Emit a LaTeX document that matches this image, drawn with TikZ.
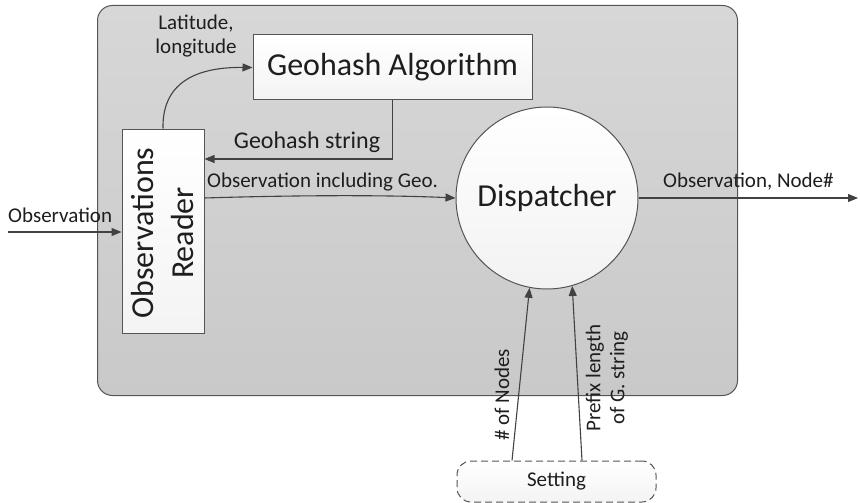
\documentclass[tikz,border=0pt]{standalone}
\usepackage{fontspec}
\setmainfont{Carlito}
\usetikzlibrary{arrows.meta}

\definecolor{paneltop}{HTML}{D7D7D7}
\definecolor{panelbot}{HTML}{C9C9C9}
\definecolor{edge}{HTML}{555555}
\definecolor{ink}{HTML}{424242}
\definecolor{txt}{HTML}{1E1E1E}

\begin{document}
\begin{tikzpicture}[x=1pt,y=-1pt,
  every node/.style={text=txt},
  small/.style={font=\fontsize{21}{24}\selectfont},
  mid/.style={font=\fontsize{24}{29}\selectfont},
  big/.style={font=\fontsize{32}{40}\selectfont},
  block/.style={draw=edge, line width=1pt, top color=white, bottom color=gray!9, inner sep=0pt},
  conn/.style={draw=ink, line width=1.1pt, -{Triangle[length=10pt,width=8pt]}},
]
\useasboundingbox (0,0) rectangle (860,503);

% grey system boundary
\node[draw=edge, line width=1pt, top color=paneltop, bottom color=panelbot, rounded corners=15pt,
      minimum width=640pt, minimum height=390pt, inner sep=0pt, anchor=north west] (panel) at (97,5) {};

% processing blocks
\node[block, big, minimum width=279pt, minimum height=65pt] (geo) at (392.5,67.5) {Geohash Algorithm};
\node[block, minimum width=82pt, minimum height=204pt] (reader) at (163,231) {};
\node[big, rotate=90, align=center, inner sep=0pt] (readertxt) at (163,233) {Observations\\Reader};
\node[circle, draw=edge, line width=1pt, top color=white, bottom color=gray!10,
      minimum size=182pt, inner sep=0pt, big] (disp) at (547,198) {Dispatcher};
\node[draw=edge, line width=1pt, dash pattern=on 7pt off 4pt, rounded corners=14pt,
      top color=white, bottom color=gray!9, minimum width=199pt, minimum height=41pt,
      inner sep=0pt, small] (set) at (556.5,481.5) {Setting};

% free ends
\coordinate (in) at (8,232);
\coordinate (out) at (858,198);

% connectors
\draw[conn] (in) -- (reader.west |- in);
\draw[conn] (reader.north) .. controls (162,80) and (200,67) .. (geo.west);
\draw[conn] (geo.south) |- ([yshift=72pt]reader.east);
\draw[conn] ([yshift=33pt]reader.east) .. controls (300,195) and (390,195) .. (disp.west);
\draw[conn] (disp.east) -- (out);
\draw[conn] ([xshift=-44.5pt]set.north) -- (disp.259);
\draw[conn] ([xshift=25.5pt]set.north) -- (disp.286);

% connector labels
\node[small, anchor=base west, inner sep=0pt] (lin) at (8,222) {Observation};
\node[small, align=center, inner sep=0pt] (llat) at (196,36) {Latitude,\\longitude};
\node[mid, anchor=base, inner sep=0pt] (lgs) at (307,148) {Geohash string};
\node[small, anchor=base west, inner sep=0pt] (lobs) at (207,187) {Observation including Geo.};
\node[small, anchor=base west, inner sep=0pt] (lout) at (663,187) {Observation, Node\#};
\node[small, rotate=90, inner sep=0pt] (lnodes) at (502,395) {\# of Nodes};
\node[small, rotate=90, align=center, inner sep=0pt] (lprefix) at (607,378) {Prefix length\\of G. string};
\end{tikzpicture}
\end{document}
